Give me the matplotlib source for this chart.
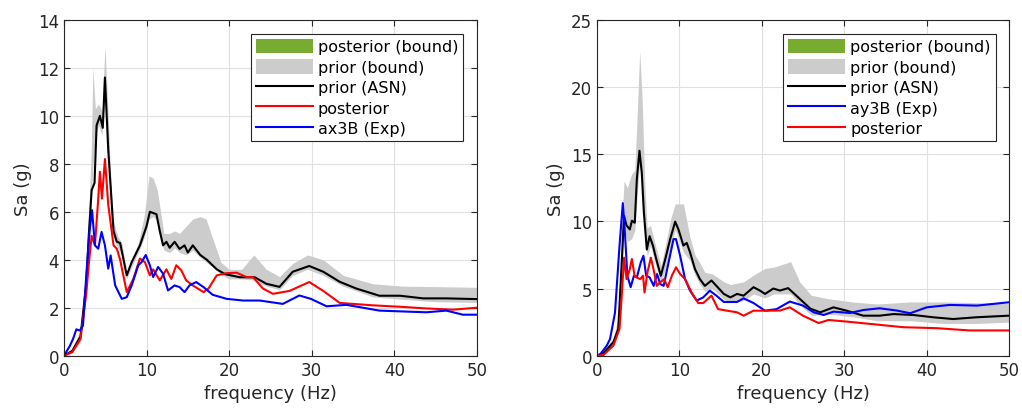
import matplotlib
matplotlib.use("Agg")
import matplotlib.pyplot as plt
from matplotlib.patches import Patch
from matplotlib.lines import Line2D

# ---- left panel (x direction) ----
band_f_x = [0, 1, 2, 2.7, 3.0, 3.3, 3.5, 3.8, 4.2, 4.6, 4.96, 5.3, 5.7, 6.0, 6.5, 7.0, 7.6, 8.2, 9.0, 9.7,
            10.3, 10.8, 11.3, 11.7, 12.1, 12.8, 13.4, 14.0, 14.8, 15.6, 16.5, 17.2, 18.0, 19.0, 20.0, 21.5,
            23.0, 24.5, 26.1, 27.7, 29.5, 31.4, 33.8, 37.4, 41, 45, 50]
band_lo_x = [0, 0.1, 0.6, 2.5, 4.0, 6.5, 7.8, 9.2, 9.6, 9.2, 11.0, 8.3, 5.8, 4.9, 4.5, 4.3, 3.2, 3.7, 4.3, 4.9,
             5.7, 5.8, 5.6, 4.9, 4.4, 4.3, 4.5, 4.3, 4.2, 4.4, 4.1, 3.9, 3.7, 3.4, 3.2, 3.2,
             3.15, 2.9, 2.75, 3.35, 3.6, 3.35, 2.9, 2.45, 2.35, 2.25, 2.22]
band_hi_x = [0, 0.3, 1.1, 3.6, 6.0, 8.5, 12.0, 10.3, 10.5, 10.2, 12.9, 10.5, 7.0, 5.6, 5.0, 4.7, 3.5, 4.0, 4.7, 5.8,
             7.5, 7.4, 6.9, 6.0, 5.1, 5.1, 5.2, 5.1, 5.4, 5.7, 5.8, 5.7, 4.9, 3.9, 3.6, 3.6,
             4.2, 3.6, 3.3, 3.85, 4.2, 4.0, 3.35, 3.0, 2.9, 2.88, 2.85]

prior_f_x = [0, 1, 2, 2.7, 3.0, 3.35, 3.7, 3.95, 4.35, 4.7, 4.96, 5.36, 6.0, 6.4, 6.8, 7.6, 8.2, 9.2, 10.0, 10.4,
             11.2, 11.6, 12.0, 12.4, 12.8, 13.4, 14.0, 14.6, 15.0, 15.6, 16.5, 17.3, 18.5, 19.5, 21.3, 23.1,
             24.5, 26.1, 27.7, 29.7, 31.4, 33.4, 35.4, 38.2, 40.7, 43.5, 46.3, 50]
prior_x = [0, 0.2, 0.8, 3.0, 5.0, 6.9, 7.2, 9.6, 10.0, 9.5, 11.6, 8.6, 5.2, 4.75, 4.7, 3.35, 3.9, 4.6, 5.4, 6.0,
           5.9, 5.2, 4.6, 4.75, 4.5, 4.75, 4.45, 4.6, 4.3, 4.6, 4.2, 4.0, 3.6, 3.4, 3.27, 3.27,
           3.0, 2.87, 3.5, 3.74, 3.5, 3.08, 2.8, 2.5, 2.5, 2.39, 2.39, 2.36]

post_f_x = [0, 1, 2, 2.7, 3.0, 3.35, 3.75, 4.15, 4.35, 4.6, 4.96, 5.36, 6.0, 6.4, 6.8, 7.6, 8.4, 9.2, 9.8, 10.4,
            10.8, 11.6, 12.4, 13.0, 13.6, 14.2, 14.8, 15.6, 16.9, 17.5, 18.5, 19.7, 20.9, 22.1, 22.9,
            24.1, 25.3, 27.3, 29.7, 31.4, 33.4, 37.4, 40.7, 43.9, 47.1, 50]
post_x = [0, 0.15, 0.7, 2.6, 3.8, 5.0, 4.6, 6.55, 7.67, 6.55, 8.2, 6.3, 4.6, 4.46, 4.0, 2.65, 3.2, 4.05, 3.9, 3.35,
          3.6, 3.14, 3.6, 3.2, 3.77, 3.56, 3.14, 2.93, 2.65, 2.8, 3.35, 3.44, 3.46, 3.28, 3.27,
          2.8, 2.58, 2.7, 3.07, 2.7, 2.2, 2.1, 2.04, 1.97, 1.92, 2.0]

exp_f_x = [0, 0.7, 1.1, 1.5, 1.9, 2.3, 2.7, 3.1, 3.4, 3.75, 4.15, 4.55, 4.96, 5.36, 5.65, 6.2, 7.0, 7.6, 8.2, 9.0,
           9.4, 9.9, 10.4, 10.8, 11.4, 12.0, 12.6, 13.4, 14.0, 14.6, 15.2, 16.0, 16.9, 18.0, 19.7, 21.7,
           23.7, 26.5, 28.5, 29.9, 31.8, 34.2, 38.2, 41.4, 43.9, 46.3, 48.3, 50]
exp_x = [0, 0.4, 0.7, 1.1, 1.05, 1.25, 3.35, 5.2, 6.07, 4.6, 4.46, 5.16, 4.6, 3.63, 4.18, 2.93, 2.37, 2.44, 2.93, 3.77,
         3.9, 4.2, 3.77, 3.28, 3.7, 3.42, 2.72, 2.93, 2.86, 2.65, 2.93, 3.07, 2.86, 2.54, 2.37, 2.3,
         2.3, 2.16, 2.51, 2.37, 2.06, 2.12, 1.88, 1.84, 1.81, 1.88, 1.71, 1.71]

# ---- right panel (y direction) ----
band_f_y = [0, 1, 2, 2.6, 3.0, 3.3, 3.7, 4.2, 4.6, 4.9, 5.2, 5.5, 5.8, 6.1, 6.5, 7.2, 7.8, 8.4, 9.0, 9.5,
            10.5, 11.3, 11.9, 12.5, 13.1, 14.0, 15.4, 16.2, 17.8, 19.0, 20.4, 21.5, 23.5, 24.6, 26.0, 28.0,
            31.0, 34, 38, 42, 46, 50]
band_lo_y = [0, 0.2, 0.8, 1.8, 6.0, 9.5, 8.5, 8.7, 9.3, 12.0, 14.5, 12.5, 9.5, 7.4, 8.2, 6.6, 5.5, 6.6, 8.2, 9.4,
             7.7, 7.1, 6.0, 5.3, 4.8, 5.0, 4.2, 4.0, 4.1, 4.6, 4.3, 4.6, 4.6, 3.8, 3.0, 3.1,
             2.9, 2.6, 2.6, 2.4, 2.4, 2.5]
band_hi_y = [0, 0.5, 1.3, 3.0, 9.5, 13.0, 12.5, 13.5, 13.8, 18.0, 22.7, 19.0, 13.0, 9.5, 9.7, 8.0, 6.7, 8.5, 10.3, 11.3,
             11.3, 8.8, 7.5, 6.9, 6.2, 6.1, 5.5, 5.3, 5.5, 6.0, 6.5, 6.6, 7.0, 5.5, 4.5, 4.25,
             4.0, 3.85, 4.0, 4.0, 3.95, 3.9]

prior_f_y = [0, 0.8, 2.0, 2.6, 3.0, 3.3, 3.6, 4.0, 4.25, 4.6, 4.85, 5.17, 5.45, 5.7, 6.06, 6.4, 6.8, 7.2, 7.76, 8.3,
             8.9, 9.5, 9.9, 10.5, 10.9, 11.3, 11.9, 12.5, 13.1, 13.9, 14.5, 15.4, 16.2, 17.0, 17.8, 19.0,
             19.8, 20.4, 21.4, 22.2, 23.2, 24.6, 25.9, 27.1, 28.7, 30.3, 32.3, 34.3, 36.0, 38.4, 40.8, 43.2,
             46.0, 50]
prior_y = [0, 0.2, 1.0, 2.0, 6.7, 10.4, 9.7, 9.4, 10.05, 9.9, 13.15, 15.26, 13.6, 10.7, 7.9, 8.9, 8.2, 7.2, 5.95, 7.2,
           8.7, 9.98, 9.4, 8.2, 8.4, 7.7, 6.45, 5.7, 5.2, 5.6, 5.2, 4.6, 4.34, 4.6, 4.47, 5.1,
           4.84, 4.6, 5.0, 4.85, 5.03, 4.24, 3.5, 3.23, 3.6, 3.35, 2.98, 2.98, 3.1, 3.03, 2.86, 2.73,
           2.86, 2.98]

exp_f_y = [0, 0.4, 1.2, 1.6, 2.2, 2.75, 3.15, 3.4, 3.7, 4.1, 4.5, 4.85, 5.33, 5.65, 5.98, 6.4, 6.9, 7.3, 7.7, 8.1,
           8.7, 9.3, 9.6, 10.1, 10.7, 11.3, 12.1, 12.9, 13.7, 14.5, 15.4, 17.0, 17.8, 19.0, 20.4, 21.8,
           23.4, 25.0, 26.3, 27.5, 28.7, 30.7, 32.3, 34.3, 36.4, 38.0, 40.0, 42.8, 46.1, 50]
exp_y = [0, 0.1, 0.75, 1.24, 3.2, 8.2, 11.36, 9.2, 5.96, 5.1, 5.96, 5.83, 6.95, 7.44, 5.96, 5.83, 5.2, 6.08, 5.33, 5.2,
         6.95, 8.68, 8.68, 7.44, 5.7, 4.84, 4.1, 4.34, 4.84, 4.47, 4.0, 4.0, 4.27, 3.92, 3.35, 3.47,
         4.03, 3.73, 3.23, 3.03, 3.28, 3.18, 3.4, 3.53, 3.36, 3.16, 3.6, 3.78, 3.73, 3.98]

post_f_y = [0, 0.8, 2.0, 2.75, 3.07, 3.3, 3.6, 4.0, 4.25, 4.57, 4.85, 5.25, 5.6, 5.78, 6.14, 6.55, 6.87, 7.27, 7.68,
            8.16, 8.6, 9.1, 9.6, 10.1, 10.7, 11.5, 12.3, 12.9, 13.9, 14.7, 15.8, 17.0, 17.8, 19.0, 20.2,
            22.2, 23.4, 25.0, 26.9, 28.1, 30.3, 33.1, 37.2, 41.2, 45.2, 50]
post_y = [0, 0.05, 0.75, 2.0, 4.96, 7.3, 5.7, 6.45, 7.2, 5.96, 5.83, 5.7, 5.96, 4.7, 6.2, 7.3, 6.45, 5.2, 5.46,
          5.7, 5.1, 5.96, 6.58, 6.08, 5.7, 4.7, 3.92, 3.92, 4.47, 3.47, 3.35, 3.23, 2.98, 3.35, 3.35,
          3.36, 3.6, 2.98, 2.43, 2.66, 2.54, 2.37, 2.12, 2.05, 1.88, 1.88]

GREEN = "#77ac30"
GRAY = "#cccccc"
RED = "#ff0000"
BLUE = "#0000ff"

plt.rcParams["font.family"] = "DejaVu Sans"
fig = plt.figure(figsize=(10.22, 4.10), dpi=100)
ax1 = fig.add_axes([0.0626, 0.13, 0.404, 0.819])
ax2 = fig.add_axes([0.584, 0.13, 0.4034, 0.819])


def style(ax, ymax, ystep):
    ax.set_xlim(0, 50)
    ax.set_ylim(0, ymax)
    ax.set_xticks(range(0, 51, 10))
    ax.set_yticks(range(0, ymax + 1, ystep))
    ax.grid(True, color="#e0e0e0", linewidth=0.8)
    ax.set_axisbelow(True)
    ax.tick_params(direction="in", top=True, right=True, labelsize=12, colors="#262626", length=4)
    for s in ax.spines.values():
        s.set_color("#262626")
        s.set_linewidth(0.8)
    ax.set_xlabel("frequency (Hz)", fontsize=13, color="#262626")
    ax.set_ylabel("Sa (g)", fontsize=13, color="#262626")


# left
ax1.fill_between(band_f_x, band_lo_x, band_hi_x, color=GRAY, linewidth=0)
ax1.plot(prior_f_x, prior_x, color="black", lw=1.5)
ax1.plot(post_f_x, post_x, color=RED, lw=1.5)
ax1.plot(exp_f_x, exp_x, color=BLUE, lw=1.5)
style(ax1, 14, 2)
h1 = [Patch(facecolor=GREEN, edgecolor="none"), Patch(facecolor=GRAY, edgecolor="none"),
      Line2D([], [], color="black", lw=1.5), Line2D([], [], color=RED, lw=1.5),
      Line2D([], [], color=BLUE, lw=1.5)]
l1 = ["posterior (bound)", "prior (bound)", "prior (ASN)", "posterior", "ax3B (Exp)"]

# right
ax2.fill_between(band_f_y, band_lo_y, band_hi_y, color=GRAY, linewidth=0)
ax2.plot(prior_f_y, prior_y, color="black", lw=1.5)
ax2.plot(exp_f_y, exp_y, color=BLUE, lw=1.5)
ax2.plot(post_f_y, post_y, color=RED, lw=1.5)
style(ax2, 25, 5)
h2 = [h1[0], h1[1], h1[2], h1[4], h1[3]]
l2 = ["posterior (bound)", "prior (bound)", "prior (ASN)", "ay3B (Exp)", "posterior"]

for ax, h, l in [(ax1, h1, l1), (ax2, h2, l2)]:
    leg = ax.legend(h, l, loc="upper right", bbox_to_anchor=(0.967, 0.958), borderaxespad=0,
                    fontsize=11.5, fancybox=False, framealpha=1, edgecolor="#262626",
                    handlelength=3.6, handleheight=1.0, labelspacing=0.3, handletextpad=0.3,
                    borderpad=0.3)
    leg.get_frame().set_linewidth(0.8)

fig.savefig("out.png", dpi=100)
